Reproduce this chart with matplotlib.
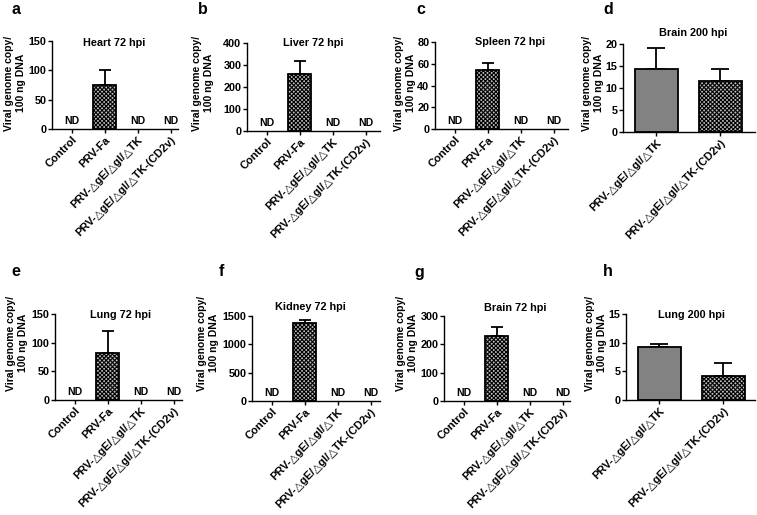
import matplotlib
matplotlib.use("Agg")
import matplotlib.pyplot as plt
import numpy as np

plt.rcParams['font.family'] = ['Liberation Sans', 'DejaVu Sans']
plt.rcParams['font.weight'] = 'bold'
plt.rcParams['hatch.linewidth'] = 0.8
plt.rcParams['hatch.color'] = '#2a2a2a'

W, H = 757, 515

cats4 = ["Control", "PRV-Fa", "PRV-△gE/△gI/△TK", "PRV-△gE/△gI/△TK-(CD2v)"]
cats2 = ["PRV-△gE/△gI/△TK", "PRV-△gE/△gI/△TK-(CD2v)"]

# values (None = not detected, shown as "ND")
heart72 = [None, 75, None, None];    heart72_err = [0, 25, 0, 0]
liver72 = [None, 258, None, None];   liver72_err = [0, 62, 0, 0]
spleen72 = [None, 54, None, None];   spleen72_err = [0, 7, 0, 0]
brain200 = [14.3, 11.5];             brain200_err = [4.7, 2.9]
lung72 = [None, 82, None, None];     lung72_err = [0, 38, 0, 0]
kidney72 = [None, 1380, None, None]; kidney72_err = [0, 45, 0, 0]
brain72 = [None, 228, None, None];   brain72_err = [0, 34, 0, 0]
lung200 = [9.3, 4.2];                lung200_err = [0.5, 2.2]

panels = [
    # letter, title, cats, vals, errs, ymax, step, axes box px, title pos px, ylabel pos px, letter pos px, styles
    ("a", "Heart 72 hpi", cats4, heart72, heart72_err, 150, 50, (52, 41, 178, 129), (114, 43), (15, 83), (11, 10), ["n", "h", "n", "n"]),
    ("b", "Liver 72 hpi", cats4, liver72, liver72_err, 400, 100, (247, 43, 380, 131), (313, 43), (203, 83), (198, 10), ["n", "h", "n", "n"]),
    ("c", "Spleen 72 hpi", cats4, spleen72, spleen72_err, 80, 20, (435, 42, 568, 129), (510, 42), (405, 83), (416, 10), ["n", "h", "n", "n"]),
    ("d", "Brain 200 hpi", cats2, brain200, brain200_err, 20, 5, (623, 44, 755, 132), (693, 33), (593, 83), (603, 10), ["s", "h"]),
    ("e", "Lung 72 hpi", cats4, lung72, lung72_err, 150, 50, (55, 314, 182, 400), (121, 315), (17, 343), (11, 272), ["n", "h", "n", "n"]),
    ("f", "Kidney 72 hpi", cats4, kidney72, kidney72_err, 1500, 500, (252, 316, 380, 401), (310, 307), (208, 343), (219, 272), ["n", "h", "n", "n"]),
    ("g", "Brain 72 hpi", cats4, brain72, brain72_err, 300, 100, (444, 316, 570, 401), (515, 308), (407, 343), (414, 272), ["n", "h", "n", "n"]),
    ("h", "Lung 200 hpi", cats2, lung200, lung200_err, 15, 5, (626, 314, 755, 400), (692, 315), (596, 343), (603, 272), ["s", "h"]),
]

fig = plt.figure(figsize=(W / 100, H / 100), dpi=100)

for letter, title, cats, vals, errs, ymax, step, box, tpos, ylpos, lpos, styles in panels:
    x0, y0, x1, y1 = box
    ax = fig.add_axes([x0 / W, 1 - y1 / H, (x1 - x0) / W, (y1 - y0) / H])
    n = len(cats)
    if n == 4:
        spacing, left, bw, cap = 33.0, -0.60, 0.7, 4.5
    else:
        spacing, left, bw, cap = 64.0, -0.52, 0.67, 6.5
    ax.set_xlim(left, left + (x1 - x0) / spacing)
    ax.set_ylim(0, ymax)
    xs = np.arange(n)
    for i, (v, e, st) in enumerate(zip(vals, errs, styles)):
        if v is None:
            ax.annotate("ND", xy=(i, 0), xytext=(0, 2.5), textcoords="offset points",
                        ha="center", va="bottom", fontsize=7.5, fontweight="bold")
            continue
        if st == "h":
            ax.bar(i, v, width=bw, facecolor="#bcbcbc", edgecolor="black", hatch="xxxxxxxx",
                   linewidth=1.3, zorder=2)
        else:
            ax.bar(i, v, width=bw, facecolor="#828282", edgecolor="black",
                   linewidth=1.3, zorder=2)
        ax.errorbar(i, v, yerr=[[0], [e]], fmt="none", ecolor="black", elinewidth=1.3,
                    capsize=cap, capthick=1.3, zorder=1)
    for s in ["top", "right"]:
        ax.spines[s].set_visible(False)
    for s in ["left", "bottom"]:
        ax.spines[s].set_linewidth(1.0)
    ax.set_yticks(np.arange(0, ymax + step / 2, step))
    ax.tick_params(axis="y", labelsize=7.8, length=3, width=1.0, pad=1)
    ax.tick_params(axis="x", labelsize=8.0, length=3, width=1.0, pad=1)
    for lab in ax.get_yticklabels():
        lab.set_fontweight("bold")
    ax.set_xticks(xs)
    ax.set_xticklabels(cats, rotation=45, ha="right", va="top", rotation_mode="anchor",
                       fontweight="bold")
    fig.text(tpos[0] / W, 1 - tpos[1] / H, title, ha="center", va="center",
             fontsize=7.8, fontweight="bold")
    fig.text(ylpos[0] / W, 1 - ylpos[1] / H,
             "Viral genome copy/\n100 ng DNA", rotation=90, ha="center", va="center",
             multialignment="center", fontsize=7.5, fontweight="bold", linespacing=1.3)
    fig.text(lpos[0] / W, 1 - lpos[1] / H, letter, ha="left", va="center",
             fontsize=11.5, fontweight="bold")

fig.savefig("out.png", dpi=100)
